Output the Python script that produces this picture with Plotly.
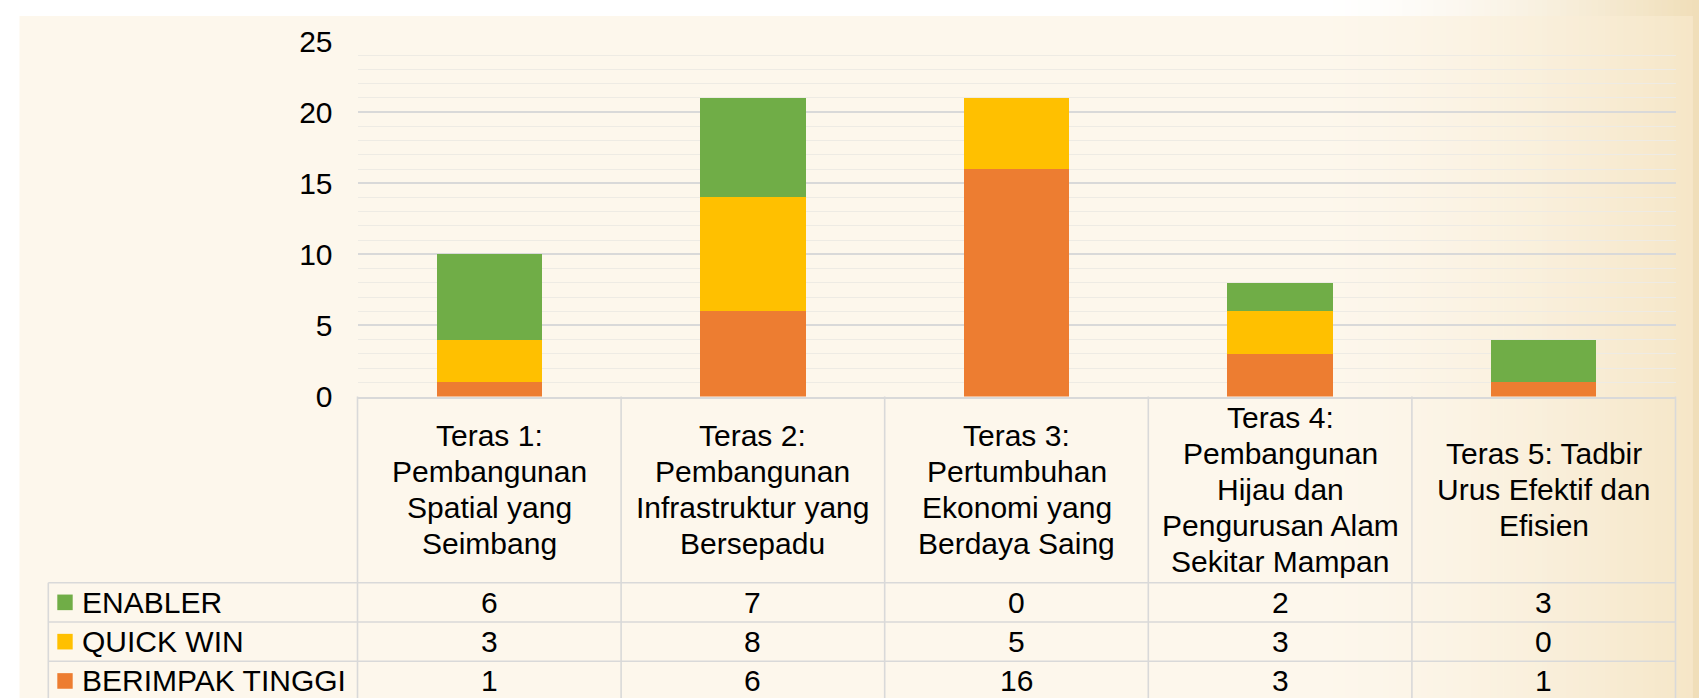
import plotly.graph_objects as go

# ---------------- data ----------------
categories = [
    "Teras 1: Pembangunan Spatial yang Seimbang",
    "Teras 2: Pembangunan Infrastruktur yang Bersepadu",
    "Teras 3: Pertumbuhan Ekonomi yang Berdaya Saing",
    "Teras 4: Pembangunan Hijau dan Pengurusan Alam Sekitar Mampan",
    "Teras 5: Tadbir Urus Efektif dan Efisien",
]
category_lines = [
    ["Teras 1:", "Pembangunan", "Spatial yang", "Seimbang"],
    ["Teras 2:", "Pembangunan", "Infrastruktur yang", "Bersepadu"],
    ["Teras 3:", "Pertumbuhan", "Ekonomi yang", "Berdaya Saing"],
    ["Teras 4:", "Pembangunan", "Hijau dan", "Pengurusan Alam", "Sekitar Mampan"],
    ["Teras 5: Tadbir", "Urus Efektif dan", "Efisien"],
]
enabler = [6, 7, 0, 2, 3]
quick_win = [3, 8, 5, 3, 0]
berimpak_tinggi = [1, 6, 16, 3, 1]

series_names = ["ENABLER", "QUICK WIN", "BERIMPAK TINGGI"]   # table row order
series_values = [enabler, quick_win, berimpak_tinggi]
series_colors = ["#70AD47", "#FFC000", "#ED7D31"]

y_ticks = [0, 5, 10, 15, 20, 25]

# ---------------- geometry (pixels) ----------------
W, H = 1699, 698
PLOT_L, PLOT_R = 357.5, 1675.5
Y0_PX, Y25_PX = 396.6, 41.0
TABLE_L = 48.3
HEADER_B = 582.7
ROW_H = 39.3
LINE_SP = 36.0
FONT = "Liberation Sans, Arial, sans-serif"
FS = 30
GRID = "#D9D9D9"


def fx(px):
    return px / W


def fy(py):
    return 1 - py / H


fig = go.Figure()

# stacked bars: bottom = BERIMPAK TINGGI, then QUICK WIN, then ENABLER
for name, vals, col in reversed(list(zip(series_names, series_values, series_colors))):
    fig.add_trace(go.Bar(
        x=list(range(len(categories))), y=vals, name=name,
        marker=dict(color=col, line=dict(width=0)),
        hovertext=categories,
    ))

shapes = []
# slide background gradient (right side turns tan)
g0, g1 = 1320.0, 1699.0
c0, c1 = (255, 255, 255), (240, 222, 184)
n = 60
for i in range(n):
    t = ((i + 0.5) / n) ** 1.5
    col = tuple(round(c0[k] + (c1[k] - c0[k]) * t) for k in range(3))
    xa = g0 + (g1 - g0) * i / n
    xb = g0 + (g1 - g0) * (i + 1) / n + 0.6
    shapes.append(dict(type="rect", xref="paper", yref="paper", layer="below",
                       x0=fx(xa), x1=fx(xb), y0=0, y1=1,
                       fillcolor="rgb(%d,%d,%d)" % col, line=dict(width=0)))
# chart area fill (semi-transparent cream)
shapes.append(dict(type="rect", xref="paper", yref="paper", layer="below",
                   x0=fx(19.5), x1=fx(1693), y0=0, y1=fy(16),
                   fillcolor="rgba(251,238,214,0.47)", line=dict(width=0)))

# data table lines
rows_y = [HEADER_B + ROW_H * k for k in range(4)]
ln = dict(color=GRID, width=1.6)
for ry in rows_y:
    shapes.append(dict(type="line", xref="paper", yref="paper",
                       x0=fx(TABLE_L), x1=fx(PLOT_R), y0=fy(ry), y1=fy(ry), line=ln))
col_w = (PLOT_R - PLOT_L) / len(categories)
for k in range(len(categories) + 1):
    xx = PLOT_L + col_w * k
    shapes.append(dict(type="line", xref="paper", yref="paper",
                       x0=fx(xx), x1=fx(xx), y0=fy(Y0_PX), y1=fy(H + 5), line=ln))
shapes.append(dict(type="line", xref="paper", yref="paper",
                   x0=fx(TABLE_L), x1=fx(TABLE_L), y0=fy(HEADER_B), y1=fy(H + 5), line=ln))

annotations = []
# header text
hc = (Y0_PX + HEADER_B) / 2
for i, lines in enumerate(category_lines):
    m = len(lines)
    for j, t in enumerate(lines):
        yy = hc + (j - (m - 1) / 2) * LINE_SP
        annotations.append(dict(x=i, xref="x", y=fy(yy), yref="paper", text=t,
                                showarrow=False, xanchor="center", yanchor="middle",
                                font=dict(family=FONT, size=FS, color="#000000")))
# rows: legend keys, labels, values
for r, (name, vals, col) in enumerate(zip(series_names, series_values, series_colors)):
    rc = HEADER_B + ROW_H * (r + 0.5)
    shapes.append(dict(type="rect", xref="paper", yref="paper",
                       x0=fx(57.3), x1=fx(72.7), y0=fy(rc + 7.8), y1=fy(rc - 7.8),
                       fillcolor=col, line=dict(width=0)))
    annotations.append(dict(x=fx(79.5), xref="paper", y=fy(rc), yref="paper", text=name,
                            showarrow=False, xanchor="left", yanchor="middle",
                            font=dict(family=FONT, size=FS, color="#000000")))
    for i, v in enumerate(vals):
        annotations.append(dict(x=i, xref="x", y=fy(rc), yref="paper", text=str(v),
                                showarrow=False, xanchor="center", yanchor="middle",
                                font=dict(family=FONT, size=FS, color="#000000")))

fig.update_layout(
    width=W, height=H,
    margin=dict(l=0, r=0, t=0, b=0, autoexpand=False),
    paper_bgcolor="#FFFFFF",
    plot_bgcolor="rgba(0,0,0,0)",
    barmode="stack",
    bargap=0.6,
    showlegend=False,
    shapes=shapes,
    annotations=annotations,
    font=dict(family=FONT, size=FS, color="#000000"),
    xaxis=dict(domain=[fx(PLOT_L), fx(PLOT_R)], range=[-0.5, 4.5],
               showticklabels=False, showgrid=False, zeroline=False,
               showline=True, linecolor=GRID, linewidth=1.6, ticks=""),
    yaxis=dict(domain=[fy(Y0_PX), fy(Y25_PX)], range=[0, 25],
               tickvals=y_ticks, ticks="", ticklabelstandoff=24,
               showgrid=True, gridcolor=GRID, gridwidth=1.6, zeroline=False,
               showline=False,
               minor=dict(dtick=1, showgrid=True, gridcolor="#EEEBE4", gridwidth=1.3),
               tickfont=dict(family=FONT, size=FS, color="#000000")),
)

fig.write_html(
    "out.html",
    config={"displayModeBar": False},
    post_script="document.body.style.margin='0';document.body.style.overflow='hidden';",
)
